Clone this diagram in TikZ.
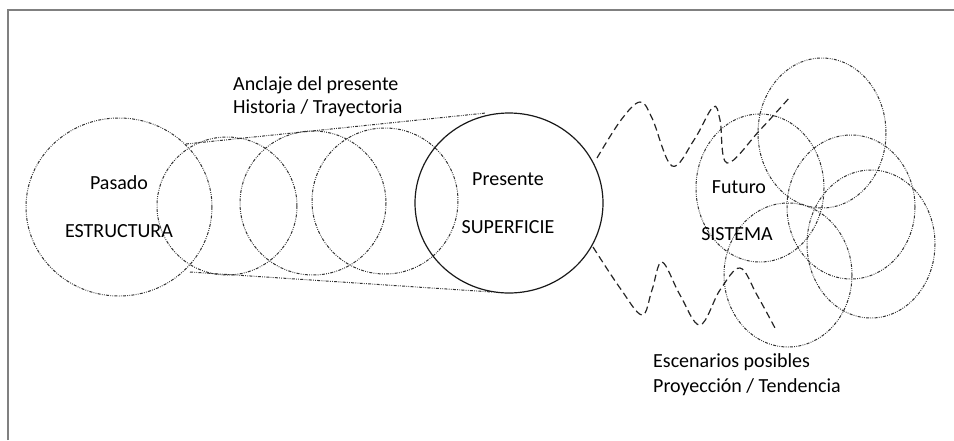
\documentclass[tikz,border=0pt]{standalone}
\usepackage{fontspec}
\setmainfont{Carlito}
\begin{document}
\begin{tikzpicture}[x=1pt,y=-1pt,
  frameline/.style={line width=1.6pt,draw=black!50},
  dotring/.style={line width=1pt,draw=black!80,dash pattern=on 3pt off 1.3pt on 0.8pt off 1.3pt on 0.8pt off 1.3pt},
  solidring/.style={line width=1.2pt,draw=black!90},
  wave/.style={line width=1.2pt,draw=black!85,dash pattern=on 7pt off 4pt},
  lbl/.style={font=\fontsize{20}{23}\selectfont,inner sep=0pt,text=black}]
\useasboundingbox (0,0) rectangle (954,440);
% frame
\draw[frameline] (8,440) -- (8,10) -- (954,10);
% past / anchor rings
\draw[dotring] (119,207) ellipse[x radius=93,y radius=89];
\draw[dotring] (227,206) ellipse[x radius=70,y radius=69];
\draw[dotring] (313,203) ellipse[x radius=73,y radius=72];
\draw[dotring] (385,201) ellipse[x radius=73,y radius=73];
% envelope lines
\coordinate (et1) at (186,144);
\coordinate (et2) at (486,113);
\coordinate (eb1) at (190,272);
\coordinate (eb2) at (492,292);
\draw[dotring] (et1) -- (et2);
\draw[dotring] (eb1) -- (eb2);
% present
\draw[solidring] (509,203) ellipse[x radius=94,y radius=90];
% future rings
\draw[dotring] (822,133) ellipse[x radius=64,y radius=75];
\draw[dotring] (760,188) ellipse[x radius=64,y radius=74];
\draw[dotring] (851,207) ellipse[x radius=64,y radius=72];
\draw[dotring] (871,244) ellipse[x radius=64,y radius=74];
\draw[dotring] (788,275) ellipse[x radius=64,y radius=72];
% wavy dashed lines
\draw[wave] plot[smooth,tension=0.6] coordinates {(597,158) (621,120) (640,102) (652,118) (672,166) (694,140) (713,107) (720,120) (727,163) (760,130) (790,97)};
\draw[wave] plot[smooth,tension=0.6] coordinates {(593,247) (620,288) (642,315) (652,290) (662,262) (680,295) (700,325) (720,290) (740,268) (757,295) (775,328)};
% labels
\node[lbl,anchor=base west] (anc) at (233,90) {Anclaje del presente};
\node[lbl,anchor=base west] (his) at (233,113) {Historia / Trayectoria};
\node[lbl] (pas) at (119,183) {Pasado};
\node[lbl] (est) at (119,231) {ESTRUCTURA};
\node[lbl] (pre) at (508,179) {Presente};
\node[lbl] (sup) at (508,227) {SUPERFICIE};
\node[lbl] (fut) at (739,187) {Futuro};
\node[lbl] (sis) at (737,234) {SISTEMA};
\node[lbl,anchor=base west] (esc) at (653,367) {Escenarios posibles};
\node[lbl,anchor=base west] (pro) at (653,392) {Proyección / Tendencia};
\end{tikzpicture}
\end{document}
